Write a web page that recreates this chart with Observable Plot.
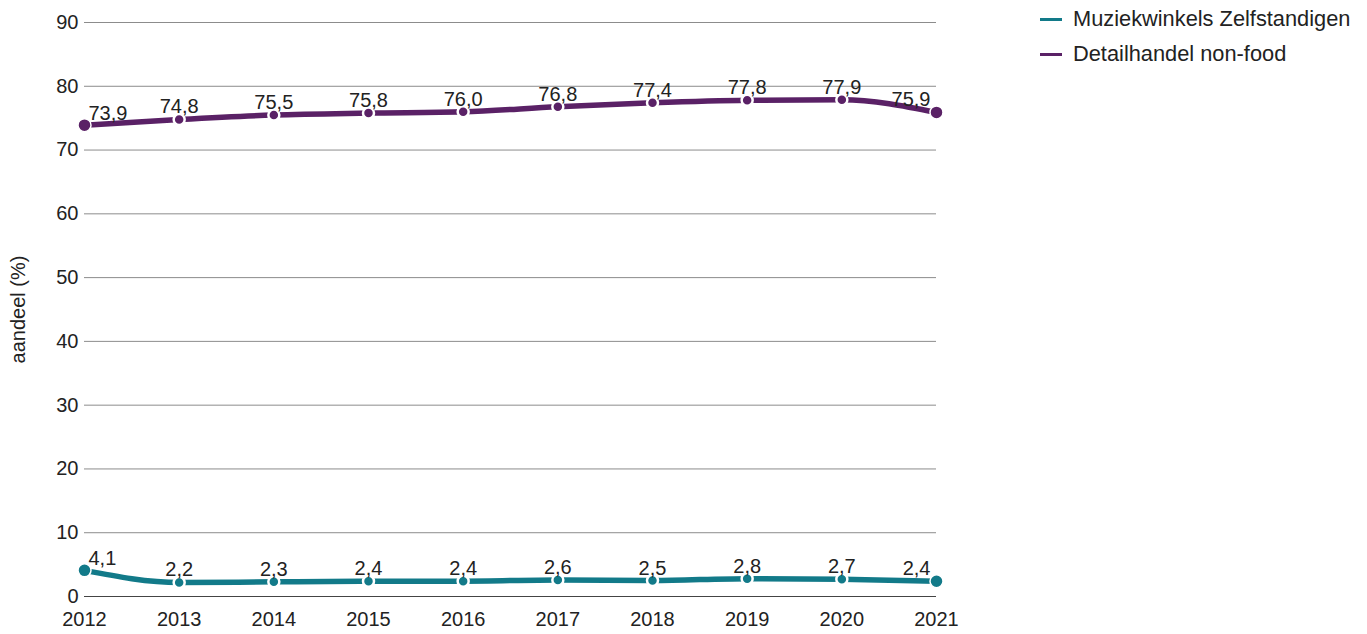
<!DOCTYPE html>
<html><head><meta charset="utf-8">
<script src="https://cdn.jsdelivr.net/npm/d3@7"></script>
<script src="https://cdn.jsdelivr.net/npm/@observablehq/plot@0.6"></script>
<style>
body{margin:0;background:#fff;font-family:"Liberation Sans",Arial,sans-serif;}
#wrap{position:relative;width:1367px;height:634px;}
#legend{position:absolute;left:1040px;top:6px;font-size:21.8px;color:#222;}
.item{display:flex;align-items:center;height:26px;margin-bottom:9px;}
.sw{width:22px;height:3px;margin-right:11px;}
</style></head><body>
<div id="wrap"><div id="legend"></div></div>
<script>
const years = [2012,2013,2014,2015,2016,2017,2018,2019,2020,2021];
const seriesNames = ["Muziekwinkels Zelfstandigen","Detailhandel non-food"];
const muziek = [4.1,2.2,2.3,2.4,2.4,2.6,2.5,2.8,2.7,2.4];
const detail = [73.9,74.8,75.5,75.8,76.0,76.8,77.4,77.8,77.9,75.9];
const colors = ["#127a89","#5a2166"];
const yTicks = [0,10,20,30,40,50,60,70,80,90];

const rows = [];
[muziek, detail].forEach((vals, s) => vals.forEach((v, i) => rows.push({year: years[i], value: v, series: seriesNames[s], i})));
const fmt = v => v.toFixed(1).replace(".", ",");
const last = years.length - 1;

const chart = Plot.plot({
  width: 1367, height: 634,
  marginLeft: 84, marginRight: 431, marginTop: 22, marginBottom: 38,
  style: {fontFamily: '"Liberation Sans", Arial, sans-serif', fontSize: "20px", color: "#222", background: "#fff"},
  x: {domain: [2012, 2021], ticks: years, tickFormat: d => String(d), tickSize: 0, tickPadding: 15, label: null},
  y: {domain: [0, 90], ticks: yTicks, tickSize: 0, tickPadding: 6, label: "aandeel (%)", labelAnchor: "center", labelArrow: "none", labelOffset: 74},
  color: {domain: seriesNames, range: colors},
  marks: [
    Plot.gridY(yTicks.filter(t => t > 0), {stroke: "#8c8c8c", strokeOpacity: 1, strokeWidth: 1}),
    Plot.ruleY([0], {stroke: "#444", strokeWidth: 1}),
    Plot.line(rows, {x: "year", y: "value", z: "series", stroke: "series", strokeWidth: 5.5, curve: "monotone-x"}),
    Plot.dot(rows, {filter: d => d.i > 0 && d.i < last, x: "year", y: "value", fill: "series", r: 5.5, stroke: "#fff", strokeWidth: 2.5}),
    Plot.dot(rows, {filter: d => d.i === 0 || d.i === last, x: "year", y: "value", fill: "series", r: 6.5, stroke: "#fff", strokeWidth: 1.5}),
    Plot.text(rows, {filter: d => d.i === 0, x: "year", y: "value", text: d => fmt(d.value), textAnchor: "start", lineAnchor: "bottom", dx: 4, dy: -5, fill: "#222", fontSize: 20}),
    Plot.text(rows, {filter: d => d.i > 0 && d.i < last, x: "year", y: "value", text: d => fmt(d.value), textAnchor: "middle", lineAnchor: "bottom", dy: -6, fill: "#222", fontSize: 20}),
    Plot.text(rows, {filter: d => d.i === last, x: "year", y: "value", text: d => fmt(d.value), textAnchor: "end", lineAnchor: "bottom", dx: -6, dy: -6, fill: "#222", fontSize: 20})
  ]
});
document.getElementById("wrap").prepend(chart);
const lg = document.getElementById("legend");
seriesNames.forEach((n, k) => {
  const it = document.createElement("div"); it.className = "item";
  const sw = document.createElement("span"); sw.className = "sw"; sw.style.background = colors[k];
  const t = document.createElement("span"); t.textContent = n;
  it.append(sw, t); lg.append(it);
});
</script></body></html>
